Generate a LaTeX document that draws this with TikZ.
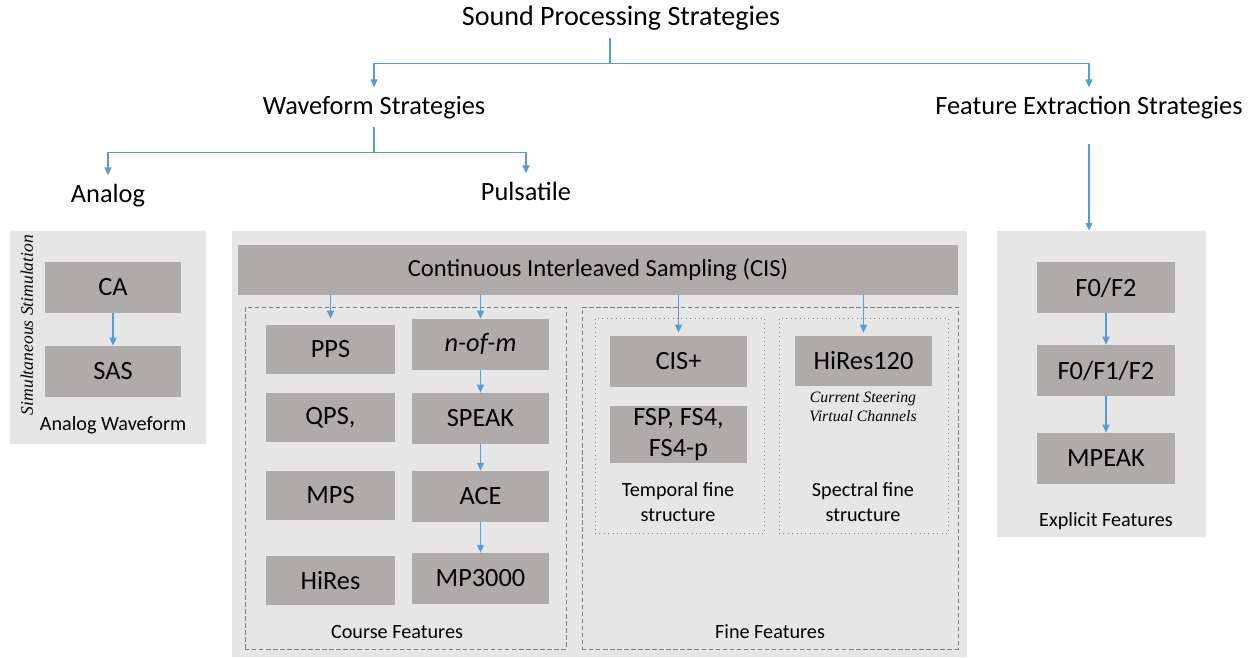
\documentclass[tikz,border=0pt]{standalone}
\usepackage{fontspec}
\setmainfont{Carlito}
\newfontfamily\notefont{Liberation Serif}
\usetikzlibrary{arrows.meta,calc}

\definecolor{panel}{HTML}{E6E6E6}
\definecolor{boxfill}{HTML}{AFABAB}
\definecolor{linkblue}{HTML}{5B9BD5}
\definecolor{framegray}{HTML}{7F7F7F}

\tikzset{
  head/.style={font=\fontsize{15}{18}\selectfont, text height=11pt, text depth=3pt, inner sep=4pt},
  panelbox/.style={fill=panel, inner sep=0pt},
  box/.style={fill=boxfill, inner sep=0pt, align=center, font=\fontsize{15}{18}\selectfont},
  smalltext/.style={align=center, font=\fontsize{11.5}{14}\selectfont},
  notetext/.style={align=center, font=\notefont\itshape\fontsize{9}{11}\selectfont},
  dashframe/.style={draw=framegray, dash pattern=on 2.5pt off 1.5pt, line width=0.5pt, inner sep=0pt},
  dotframe/.style={draw=framegray, dotted, line width=0.5pt, inner sep=0pt},
  link/.style={draw=linkblue, line width=0.6pt, -{Triangle[length=4.5pt,width=4pt]}}
}

\begin{document}
\begin{tikzpicture}[x=0.02cm, y=-0.02cm]

  \useasboundingbox (0,0) rectangle (1253,658);

  % tree of strategies
  \draw (621,18) node (sps) [head, font=\fontsize{16}{19}\selectfont] {Sound Processing Strategies};
  \draw (374,107) node (wave) [head] {Waveform Strategies};
  \draw (1089,107) node (fes) [head] {Feature Extraction Strategies};
  \draw (108,195) node (analog) [head] {Analog};
  \draw (526,193) node (pulse) [head] {Pulsatile};

  \draw[link] ([xshift=-0.22cm]sps.south) -- ++(0,26) -| (wave.north);
  \draw[link] ([xshift=-0.22cm]sps.south) -- ++(0,26) -| (fes.north);
  \draw[link] (wave.south) -- ++(0,26) -| (analog.north);
  \draw[link] (wave.south) -- ++(0,26) -| (pulse.north);

  % panels
  \draw (108,337.5) node (anapanel) [panelbox, minimum width=3.92cm, minimum height=4.26cm] {};
  \draw (599.5,444) node (pulspanel) [panelbox, minimum width=14.7cm, minimum height=8.52cm] {};
  \draw (1101.5,384) node (expanel) [panelbox, minimum width=4.18cm, minimum height=6.12cm] {};

  \draw[link, shorten <=0.34cm] (fes.south) -- (fes.south |- expanel.north);

  % analog waveform
  \draw (113,287.5) node (ca) [box, minimum width=2.72cm, minimum height=1.02cm] {CA};
  \draw (113,371.5) node (sas) [box, minimum width=2.72cm, minimum height=1.02cm] {SAS};
  \draw (113,425) node (anatxt) [smalltext] {Analog Waveform};
  \draw (27,325) node (simstim) [notetext, rotate=90, font=\notefont\itshape\fontsize{10}{12}\selectfont] {Simultaneous Stimulation};
  \draw[link] (ca) -- (sas);

  % pulsatile
  \draw (598,270) node (cis) [box, minimum width=14.4cm, minimum height=1.0cm, font=\fontsize{14}{17}\selectfont] {Continuous Interleaved Sampling (CIS)};
  \draw (405.5,478) node (course) [dashframe, minimum width=6.42cm, minimum height=6.84cm] {};
  \draw (770,478) node (fine) [dashframe, minimum width=7.52cm, minimum height=6.84cm] {};
  \draw (679.5,425.5) node (temporal) [dotframe, minimum width=3.38cm, minimum height=4.3cm] {};
  \draw (863.5,425.5) node (spectral) [dotframe, minimum width=3.38cm, minimum height=4.3cm] {};

  \draw (330.5,349.5) node (pps) [box, minimum width=2.58cm, minimum height=0.98cm] {PPS};
  \draw (330.5,417.5) node (qps) [box, minimum width=2.58cm, minimum height=0.98cm] {QPS,};
  \draw (330.5,495.5) node (mps) [box, minimum width=2.58cm, minimum height=0.98cm] {MPS};
  \draw (330.5,580.5) node (hires) [box, minimum width=2.58cm, minimum height=0.98cm] {HiRes};

  \draw (480.5,344.5) node (nofm) [box, minimum width=2.74cm, minimum height=1.02cm] {\itshape n-of-m};
  \draw (480.5,418.5) node (speak) [box, minimum width=2.74cm, minimum height=1.02cm] {SPEAK};
  \draw (480.5,496.5) node (ace) [box, minimum width=2.74cm, minimum height=1.02cm] {ACE};
  \draw (480.5,578.5) node (mp3000) [box, minimum width=2.74cm, minimum height=1.02cm] {MP3000};

  \draw (678.5,361.5) node (cisplus) [box, minimum width=2.74cm, minimum height=1.02cm] {CIS+};
  \draw (678.5,434.5) node (fsp) [box, minimum width=2.74cm, minimum height=1.14cm] {FSP, FS4,\\FS4-p};
  \draw (863.5,361) node (hires120) [box, minimum width=2.74cm, minimum height=1.0cm] {HiRes120};
  \draw (863,407) node (steer) [notetext] {Current Steering\\Virtual Channels};

  \draw (678,502) node (temptxt) [smalltext] {Temporal fine\\structure};
  \draw (863,502) node (spectxt) [smalltext] {Spectral fine\\structure};
  \draw (397,632) node (coursetxt) [smalltext] {Course Features};
  \draw (770,632) node (finetxt) [smalltext] {Fine Features};

  \draw[link, shorten >=0.12cm] (cis.south -| pps.north) -- (pps.north);
  \draw[link] (cis.south -| nofm.north) -- (nofm.north);
  \draw[link] (nofm) -- (speak);
  \draw[link] (speak) -- (ace);
  \draw[link] (ace) -- (mp3000);
  \draw[link, shorten >=0.06cm] (cis.south -| cisplus.north) -- (cisplus.north);
  \draw[link, shorten >=0.06cm] (cis.south -| hires120.north) -- (hires120.north);

  % explicit features
  \draw (1106,287.5) node (fzero) [box, minimum width=2.76cm, minimum height=1.02cm] {F0/F2};
  \draw (1106,370.5) node (fzeroone) [box, minimum width=2.76cm, minimum height=1.02cm] {F0/F1/F2};
  \draw (1106,458.5) node (mpeak) [box, minimum width=2.76cm, minimum height=1.02cm] {MPEAK};
  \draw (1106,521) node (exptxt) [smalltext] {Explicit Features};
  \draw[link] (fzero) -- (fzeroone);
  \draw[link] (fzeroone) -- (mpeak);

\end{tikzpicture}
\end{document}
